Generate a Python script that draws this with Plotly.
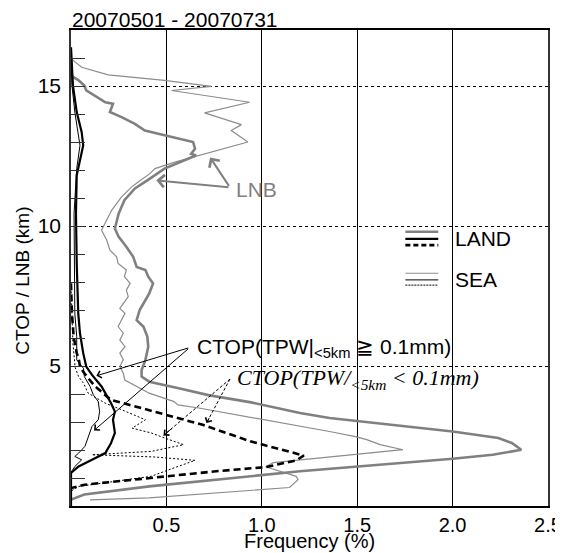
import plotly.graph_objects as go

# ---------------- data (height km, frequency %) ----------------
land_lnb_km = [15.45, 15.37, 15.2, 15.02, 14.84, 14.42, 14.37, 14.07, 13.89, 13.65, 13.41, 13.24, 13.0, 12.76,
               12.58, 12.52, 12.05, 11.63, 11.34, 10.92, 10.45, 9.91, 9.61, 9.26, 8.90, 8.54, 8.43, 8.19, 7.95,
               7.59, 7.36, 7.0, 6.64, 6.4, 6.05, 5.69, 5.22, 4.86, 4.62, 4.44, 4.2, 3.96, 3.7, 3.32, 3.14, 2.66,
               2.43, 2.25, 2.01, 1.83, 1.69, 1.24, 0.70, 0.41, 0.23]
land_lnb_freq = [0.0, 0.0, 0.04, 0.07, 0.08, 0.18, 0.22, 0.204, 0.265, 0.335, 0.387, 0.49, 0.64, 0.65,
                 0.63, 0.655, 0.49, 0.40, 0.335, 0.28, 0.25, 0.23, 0.25, 0.29, 0.326, 0.344, 0.39, 0.405, 0.43,
                 0.41, 0.39, 0.36, 0.344, 0.38, 0.40, 0.405, 0.39, 0.37, 0.37, 0.41, 0.57, 0.72, 0.944, 1.20, 1.355,
                 2.0, 2.24, 2.31, 2.36, 2.21, 2.0, 1.20, 0.41, 0.07, 0.0]

sea_lnb_km = [15.97, 15.67, 15.4, 15.2, 14.99, 14.84, 14.42, 14.04, 13.62, 13.41, 13.0, 12.58, 12.28, 12.05,
              11.87, 11.57, 11.39, 11.04, 10.56, 10.09, 9.85, 9.5, 9.14, 8.90, 8.66, 8.43, 8.19, 7.95, 7.71,
              7.48, 7.24, 7.06, 6.88, 6.64, 6.41, 6.17, 5.93, 5.69, 5.46, 5.22, 4.98, 4.74, 4.5, 4.03, 3.73,
              3.61, 3.5, 2.66, 2.48, 2.37, 2.19, 2.01, 1.55, 1.40, 1.06, 0.94, 0.66, 0.29, 0.22]
sea_lnb_freq = [0.0, 0.056, 0.195, 0.49, 0.736, 0.527, 0.936, 0.70, 0.893, 0.84, 0.927, 0.70, 0.544, 0.44,
                0.413, 0.352, 0.317, 0.265, 0.213, 0.178, 0.16, 0.187, 0.204, 0.239, 0.247, 0.29, 0.28, 0.31,
                0.29, 0.30, 0.274, 0.256, 0.283, 0.265, 0.247, 0.274, 0.256, 0.283, 0.256, 0.274, 0.256, 0.274,
                0.282, 0.41, 0.54, 0.56, 0.67, 1.355, 1.49, 1.55, 1.62, 1.74, 1.06, 1.02, 1.18, 1.19, 1.145,
                0.41, 0.10]

land_ctop_km = [16.38, 15.02, 14.07, 13.35, 12.88, 12.28, 11.81, 10.45, 8.66, 6.88, 6.17, 5.46, 4.98, 4.68,
                4.27, 3.67, 3.37, 3.08, 2.61, 2.25, 1.89, 1.65, 1.41, 1.18, 0.0]
land_ctop_freq = [0.0, 0.01, 0.03, 0.056, 0.064, 0.047, 0.03, 0.026, 0.03, 0.038, 0.047, 0.064, 0.08, 0.11,
                  0.16, 0.21, 0.23, 0.22, 0.23, 0.21, 0.18, 0.11, 0.04, 0.0, 0.0]

sea_ctop_km = [16.0, 15.02, 14.07, 12.88, 12.05, 10.45, 6.88, 6.05, 5.22, 4.92, 4.62, 4.27, 3.97, 3.73, 3.37,
               3.08, 2.84, 2.48, 2.13, 1.89, 1.77, 1.65, 1.41, 1.2, 0.0]
sea_ctop_freq = [0.0, 0.005, 0.02, 0.047, 0.03, 0.016, 0.02, 0.03, 0.03, 0.065, 0.07, 0.10, 0.117, 0.143,
                 0.15, 0.143, 0.11, 0.09, 0.073, 0.04, 0.02, 0.056, 0.02, 0.0, 0.0]

land_dry_km = [7.95, 6.88, 6.05, 5.46, 5.28, 4.98, 4.74, 4.27, 3.79, 3.44, 2.9, 2.31, 1.80, 1.63, 1.39, 1.24,
               1.04, 0.94, 0.76, 0.64]
land_dry_freq = [0.0, 0.005, 0.014, 0.03, 0.04, 0.047, 0.07, 0.126, 0.21, 0.40, 0.69, 0.94, 1.22, 1.18, 1.02,
                 0.76, 0.48, 0.32, 0.07, 0.0]

sea_dry_km = [7.95, 6.64, 5.81, 5.1, 4.98, 4.62, 4.39, 4.03, 3.67, 3.44, 3.08, 2.78, 2.61, 2.43, 2.19, 1.95,
              1.83, 1.75, 1.63, 1.36, 1.06, 0.88, 0.70, 0.53]
sea_dry_freq = [0.0, 0.005, 0.01, 0.02, 0.02, 0.04, 0.065, 0.09, 0.18, 0.265, 0.39, 0.32, 0.42, 0.49, 0.59,
                0.42, 0.11, 0.44, 0.65, 0.54, 0.42, 0.23, 0.04, 0.0]

x_tickvals = [0.5, 1.0, 1.5, 2.0, 2.5]
x_ticktext = ["0.5", "1.0", "1.5", "2.0", "2.5"]
y_tickvals = [5, 10, 15]
y_ticktext = ["5", "10", "15"]

title_text = "20070501 - 20070731"
x_title = "Frequency (%)"
y_title = "CTOP / LNB (km)"

FONT = "Liberation Sans, Arial, sans-serif"
SERIF = "Liberation Serif, Times New Roman, serif"
GRAY_THICK = "#808080"
GRAY_THIN = "#8c8c8c"

fig = go.Figure()

def add(xv, yv, color, width, dash="solid"):
    fig.add_trace(go.Scatter(x=xv, y=yv, mode="lines",
                             line=dict(color=color, width=width, dash=dash),
                             showlegend=False, hoverinfo="skip"))

add(sea_lnb_freq, sea_lnb_km, GRAY_THIN, 1.2)
add(land_lnb_freq, land_lnb_km, GRAY_THICK, 2.6)
add(sea_dry_freq, sea_dry_km, "black", 1, "2px,2px")
add(land_dry_freq, land_dry_km, "black", 2.6, "7px,4px")
add(sea_ctop_freq, sea_ctop_km, "black", 1)
add(land_ctop_freq, land_ctop_km, "black", 2.2)

annotations = []
shapes = []

# title and axis titles
annotations.append(dict(text=title_text, xref="paper", yref="paper", x=0, y=1, xanchor="left",
                        yanchor="bottom", showarrow=False, font=dict(family=FONT, size=21, color="black"),
                        xshift=-1, yshift=-3))
annotations.append(dict(text=x_title, xref="paper", yref="paper", x=0.5, y=-0.073, xanchor="center",
                        yanchor="middle", showarrow=False, font=dict(family=FONT, size=20, color="black")))
annotations.append(dict(text=y_title, xref="paper", yref="paper", x=-0.101, y=0.473, xanchor="center",
                        yanchor="middle", textangle=-90, showarrow=False,
                        font=dict(family=FONT, size=19, color="black")))

# LNB label and arrows
lnb_text_pos = (0.853, 11.3)
lnb_tail = (0.833, 11.38)
lnb_heads = [(0.447, 11.63), (0.729, 12.45)]
annotations.append(dict(text="LNB", x=lnb_text_pos[0], y=lnb_text_pos[1], xref="x", yref="y",
                        xanchor="left", yanchor="middle", showarrow=False,
                        font=dict(family=FONT, size=21, color=GRAY_THICK)))
for hx, hy in lnb_heads:
    annotations.append(dict(text="", x=hx, y=hy, ax=lnb_tail[0], ay=lnb_tail[1], axref="x", ayref="y",
                            xref="x", yref="y", showarrow=True, arrowhead=4, arrowsize=1.2,
                            arrowwidth=2, arrowcolor=GRAY_THICK))

# CTOP (wet) label and arrows
ctop_text_pos = (0.652, 5.66)
ctop_tail = (0.622, 5.66)
ctop_heads = [(0.133, 4.65), (0.121, 2.70)]
annotations.append(dict(text="CTOP(TPW|<sub>&lt;5km</sub> ≧ 0.1mm)", x=ctop_text_pos[0], y=ctop_text_pos[1],
                        xref="x", yref="y", xanchor="left", yanchor="middle", showarrow=False,
                        font=dict(family=FONT, size=21, color="black")))
for hx, hy in ctop_heads:
    annotations.append(dict(text="", x=hx, y=hy, ax=ctop_tail[0], ay=ctop_tail[1], axref="x", ayref="y",
                            xref="x", yref="y", showarrow=True, arrowhead=4, arrowsize=1.4,
                            arrowwidth=1, arrowcolor="black"))

# CTOP (dry) label and dashed arrows
dry_text_pos = (0.86, 4.53)
dry_tail = (0.833, 4.53)
dry_heads = [(0.485, 2.52), (0.71, 2.96)]
annotations.append(dict(text="<i>CTOP(TPW/<sub>&lt;5km</sub> &lt; 0.1mm)</i>", x=dry_text_pos[0],
                        y=dry_text_pos[1], xref="x", yref="y", xanchor="left", yanchor="middle",
                        showarrow=False, font=dict(family=SERIF, size=22, color="black")))
for hx, hy in dry_heads:
    shapes.append(dict(type="line", xref="x", yref="y", x0=dry_tail[0], y0=dry_tail[1], x1=hx, y1=hy,
                       line=dict(color="black", width=1, dash="3px,2px")))
    annotations.append(dict(text="", x=hx, y=hy, ax=hx + 0.15 * (dry_tail[0] - hx),
                            ay=hy + 0.15 * (dry_tail[1] - hy), axref="x", ayref="y",
                            xref="x", yref="y", showarrow=True, arrowhead=4, arrowsize=1.4,
                            arrowwidth=1, arrowcolor="black"))

# legend (drawn)
leg_x0, leg_x1 = 0.701, 0.770
land_rows = [(0.576, GRAY_THICK, 2.6, "solid"), (0.561, "black", 2.2, "solid"), (0.548, "black", 2.6, "5px,3px")]
sea_rows = [(0.489, GRAY_THIN, 1.2, "solid"), (0.475, "black", 1, "solid"), (0.464, "black", 1, "2px,1px")]
for yy, col, w, d in land_rows + sea_rows:
    shapes.append(dict(type="line", xref="paper", yref="paper", x0=leg_x0, x1=leg_x1, y0=yy, y1=yy,
                       line=dict(color=col, width=w, dash=d)))
annotations.append(dict(text="LAND", xref="paper", yref="paper", x=0.801, y=0.561, xanchor="left",
                        yanchor="middle", showarrow=False, font=dict(family=FONT, size=21, color="black")))
annotations.append(dict(text="SEA", xref="paper", yref="paper", x=0.801, y=0.476, xanchor="left",
                        yanchor="middle", showarrow=False, font=dict(family=FONT, size=21, color="black")))

# page body has an 8px margin, so the figure is 8px smaller than the window
fig.update_layout(
    width=555, height=545,
    margin=dict(l=63, r=15, t=22, b=47, autoexpand=False),
    paper_bgcolor="white", plot_bgcolor="white",
    font=dict(family=FONT, size=21, color="black"),
    annotations=annotations, shapes=shapes,
    xaxis=dict(range=[0, 2.5], tickvals=x_tickvals, ticktext=x_ticktext, showgrid=True,
               gridcolor="black", gridwidth=1, zeroline=False, showline=True, mirror=True,
               linecolor="black", linewidth=1.5, ticks="", ticklabelstandoff=0, automargin=False,
               tickfont=dict(size=20)),
    yaxis=dict(range=[0, 17], tickvals=y_tickvals, ticktext=y_ticktext, showgrid=True,
               gridcolor="black", gridwidth=1, griddash="dot", zeroline=False, showline=True,
               mirror=True, linecolor="#333", linewidth=1.5, ticks="inside", ticklen=14,
               tickcolor="#333", tickwidth=1, automargin=False, tickfont=dict(size=21),
               ticklabelstandoff=4,
               minor=dict(tickvals=list(range(1, 17)), ticks="inside", ticklen=14, tickcolor="#333",
                          tickwidth=1, showgrid=False)),
)

fig.write_html("out.html")
